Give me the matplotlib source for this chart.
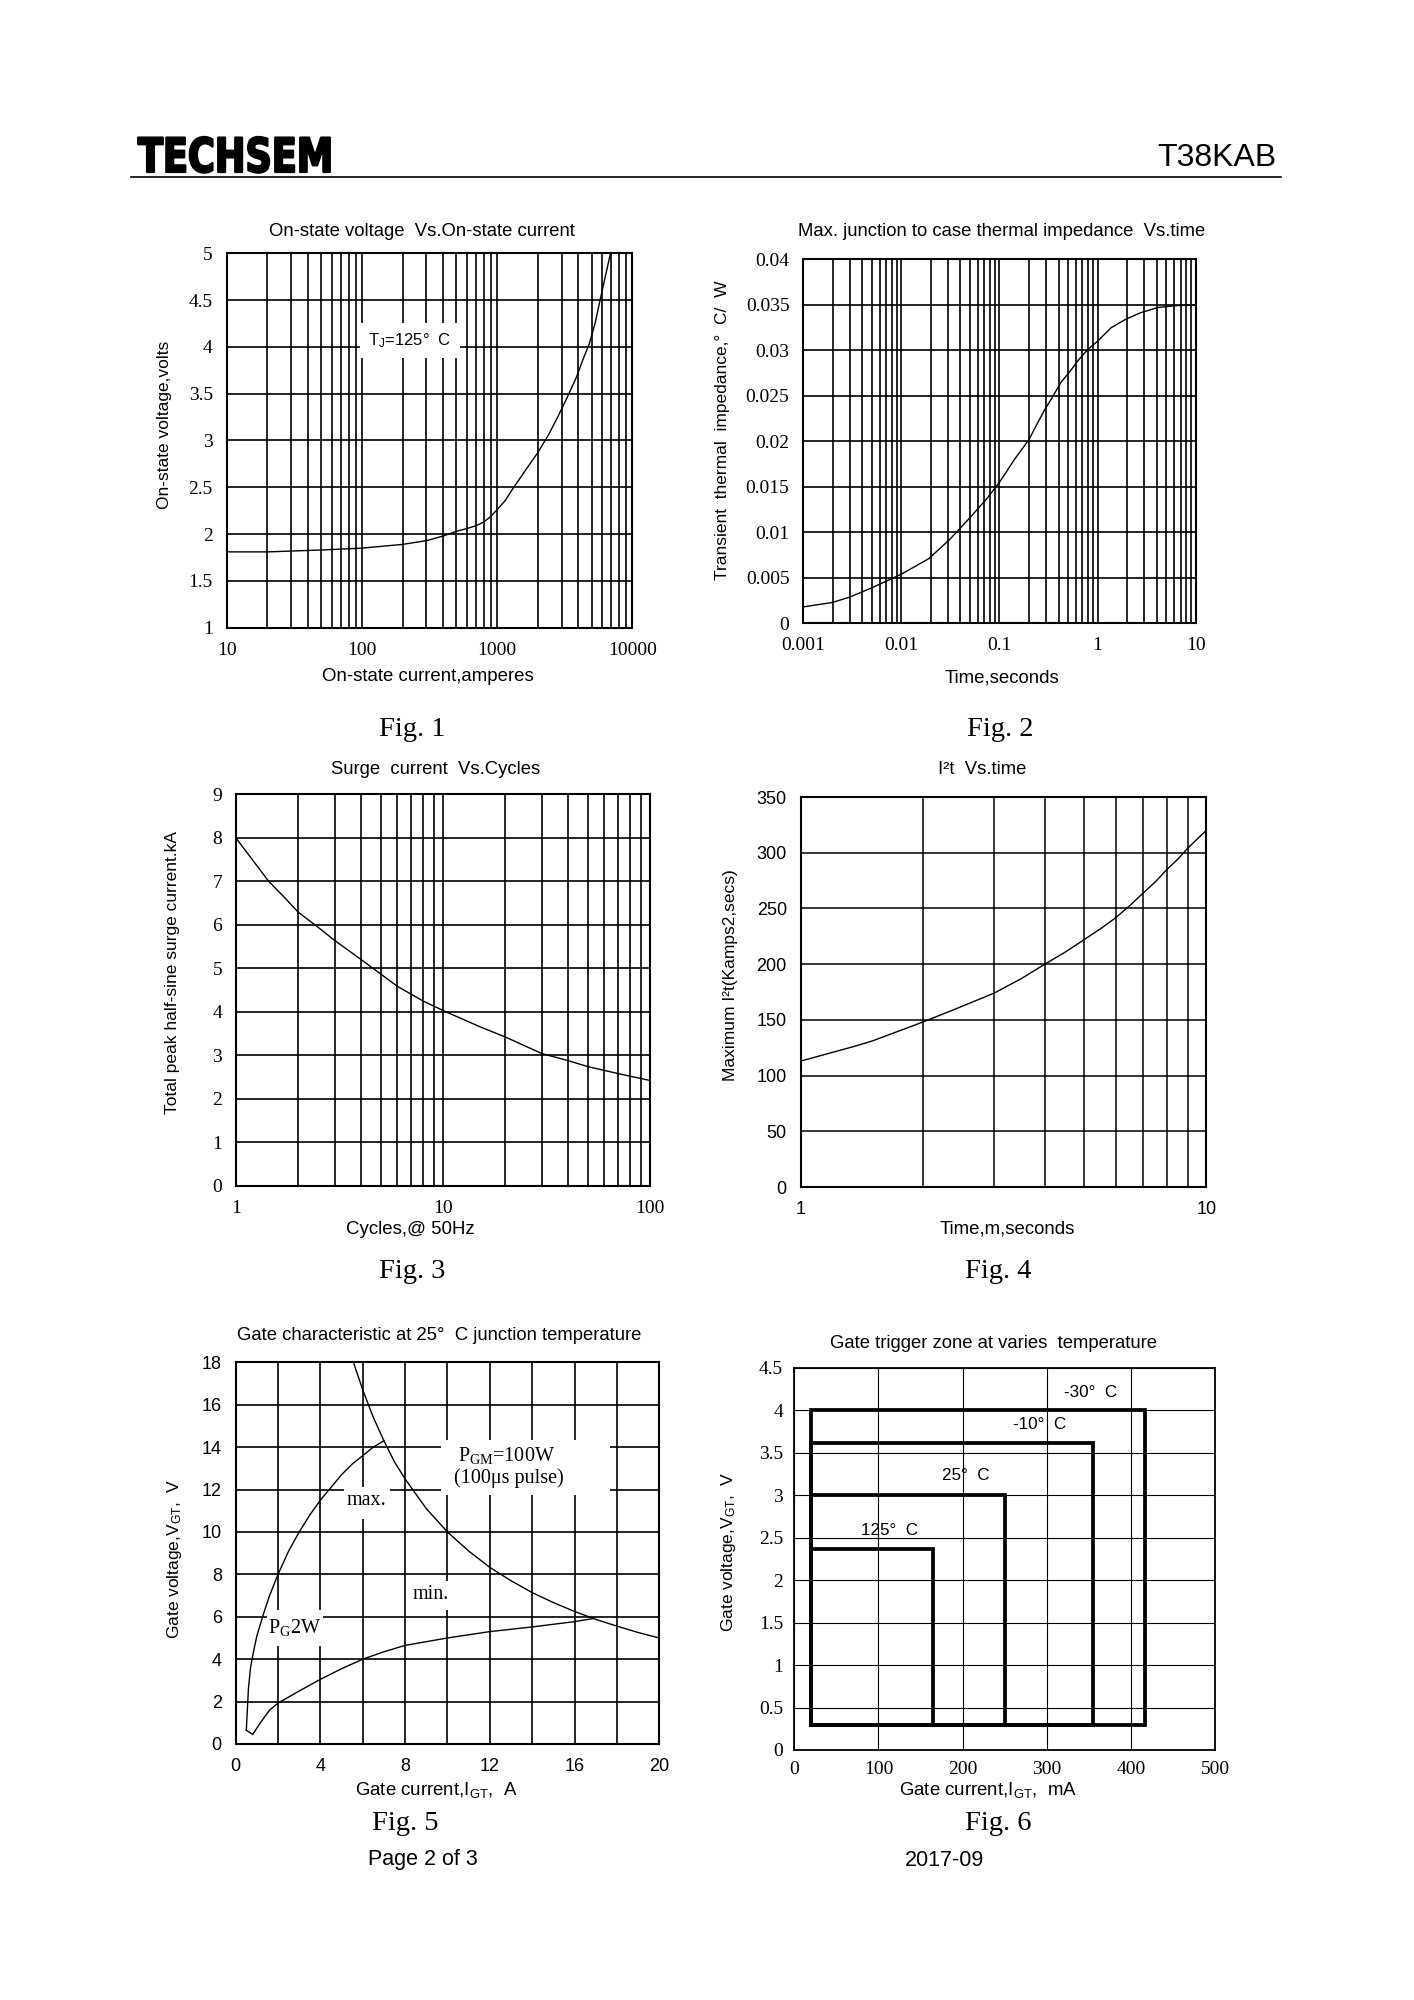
import matplotlib
matplotlib.use('Agg')
import matplotlib.pyplot as plt
from matplotlib.ticker import LogLocator, NullFormatter, FixedLocator
from matplotlib.patches import Rectangle
from matplotlib.patheffects import AbstractPathEffect
from matplotlib.transforms import Affine2D

# ---------------- data ----------------
# Fig.1 On-state voltage vs on-state current
f1_current = [10, 20, 50, 100, 200, 300, 400, 500, 600, 700, 800, 900, 1000, 1150, 1300,
              1600, 2000, 2400, 2850, 3300, 3870, 4300, 4800, 5300, 5900, 6400, 6900]
f1_voltage = [1.81, 1.81, 1.83, 1.85, 1.89, 1.93, 1.98, 2.03, 2.06, 2.09, 2.13, 2.19, 2.26, 2.36, 2.48,
              2.67, 2.87, 3.06, 3.27, 3.46, 3.68, 3.86, 4.03, 4.25, 4.56, 4.79, 5.0]
f1_yticks = [1, 1.5, 2, 2.5, 3, 3.5, 4, 4.5, 5]
f1_xticks = [10, 100, 1000, 10000]

# Fig.2 transient thermal impedance vs time
f2_time = [0.001, 0.002, 0.003, 0.005, 0.01, 0.019, 0.031, 0.048, 0.073, 0.1, 0.142, 0.2, 0.236,
           0.29, 0.344, 0.425, 0.524, 0.646, 0.796, 1.0, 1.38, 1.93, 2.7, 4.1, 6.25, 10]
f2_zth = [0.0018, 0.0023, 0.0029, 0.0039, 0.0054, 0.0071, 0.0092, 0.0114, 0.0136, 0.0155, 0.018, 0.0202, 0.0217,
          0.0235, 0.0248, 0.0265, 0.0277, 0.029, 0.0301, 0.031, 0.0325, 0.0334, 0.0341, 0.0347, 0.0349, 0.035]
f2_yticks = [0, 0.005, 0.01, 0.015, 0.02, 0.025, 0.03, 0.035, 0.04]
f2_xticks = [0.001, 0.01, 0.1, 1, 10]

# Fig.3 surge current vs cycles
f3_cycles = [1, 1.2, 1.44, 1.7, 2, 2.5, 3, 4, 5, 6, 8, 10, 15, 20, 25, 30, 40, 50, 70, 100]
f3_surge = [8.0, 7.5, 7.0, 6.65, 6.29, 5.94, 5.64, 5.21, 4.87, 4.59, 4.25, 4.03, 3.66, 3.42, 3.21, 3.04, 2.88,
            2.74, 2.58, 2.42]
f3_yticks = [0, 1, 2, 3, 4, 5, 6, 7, 8, 9]
f3_xticks = [1, 10, 100]

# Fig.4 I2t vs time
f4_time = [1, 1.35, 1.5, 2, 2.38, 3, 3.5, 4, 4.5, 5, 5.5, 6, 6.5, 7, 7.5, 8, 8.5, 9, 10]
f4_i2t = [113, 126, 131, 148, 159, 174, 187, 200, 211, 222, 232, 242, 253, 264, 274, 285, 294, 304, 320]
f4_yticks = [0, 50, 100, 150, 200, 250, 300, 350]
f4_xticks = [1, 10]

# Fig.5 gate characteristic
f5_pgm_i = [5.56, 6, 6.5, 7, 7.5, 8, 9, 10, 11, 12, 13, 14, 15, 16, 17, 18, 19, 20]
f5_pgm_v = [18, 16.7, 15.4, 14.3, 13.3, 12.5, 11.1, 10, 9.1, 8.33, 7.7, 7.14, 6.67, 6.25, 5.88, 5.56, 5.26, 5.0]
f5_max_i = [0.5, 0.55, 0.6, 0.7, 0.85, 1.0, 1.3, 1.6, 2.0, 2.5, 3.0, 3.5, 4.0, 4.5, 5.0, 5.5, 6.0, 6.5, 7.0]
f5_max_v = [0.65, 1.6, 2.6, 3.6, 4.4, 5.1, 6.1, 7.0, 8.0, 9.1, 10.0, 10.8, 11.5, 12.1, 12.7, 13.2, 13.6, 14.0, 14.3]
f5_min_i = [0.5, 0.8, 1.2, 1.6, 2.0, 3.0, 4.0, 5.0, 6.0, 7.0, 8.0, 10.0, 12.0, 14.0, 16.0, 16.9]
f5_min_v = [0.65, 0.45, 1.05, 1.6, 1.93, 2.5, 3.05, 3.55, 4.0, 4.35, 4.65, 5.0, 5.3, 5.52, 5.77, 5.92]
f5_xgrid = [0, 2, 4, 6, 8, 10, 12, 14, 16, 18, 20]
f5_xlabels = ['0', '', '4', '', '8', '', '12', '', '16', '', '20']
f5_yticks = [0, 2, 4, 6, 8, 10, 12, 14, 16, 18]

# Fig.6 gate trigger zone
f6_labels = ['-30°  C', '-10°  C', '25°  C', '125°  C']
f6_imin = [20, 20, 20, 20]
f6_imax = [417, 355, 250, 165]
f6_vmin = [0.3, 0.3, 0.3, 0.3]
f6_vmax = [4.0, 3.62, 3.0, 2.37]
f6_label_i = [352, 292, 204, 113]
f6_label_v = [4.21, 3.83, 3.23, 2.59]
f6_xticks = [0, 100, 200, 300, 400, 500]
f6_yticks = [0, 0.5, 1, 1.5, 2, 2.5, 3, 3.5, 4, 4.5]

# ---------------- layout ----------------
W, H = 1414, 2000
fig = plt.figure(figsize=(W / 100, H / 100), dpi=100)
SANS = 'Liberation Sans'
SERIF = 'Liberation Serif'
TITLE_FS = 13.3
XLABEL_FS = 13.4
YLABEL_FS = 12.5
SERIF_TICK = 14
SANS_TICK = 13
CAPTION_FS = 20.5


class SqueezeX(AbstractPathEffect):
    """Compress text horizontally around a fixed display x, and thicken it."""

    def __init__(self, x0, sx, lw=1.2):
        super().__init__()
        self.x0, self.sx, self.lw = x0, sx, lw

    def draw_path(self, renderer, gc, tpath, affine, rgbFace=None):
        aff = affine + Affine2D().translate(-self.x0, 0).scale(self.sx, 1).translate(self.x0, 0)
        gc0 = renderer.new_gc()
        gc0.copy_properties(gc)
        gc0.set_linewidth(self.lw)
        gc0.set_foreground('black')
        renderer.draw_path(gc0, tpath, aff, rgbFace)
        gc0.restore()


def px_axes(l, t, r, b):
    return fig.add_axes([l / W, 1 - b / H, (r - l) / W, (b - t) / H])


def ftext(x, y, s, **kw):
    kw.setdefault('ha', 'center')
    kw.setdefault('va', 'center')
    return fig.text(x / W, 1 - y / H, s, **kw)


def fmt(v):
    return '%g' % v


def style(ax, tickfont, tickfs, gridlw=1.2, framelw=1.5, pad=10):
    ax.set_axisbelow(True)
    for sp in ax.spines.values():
        sp.set_linewidth(framelw)
        sp.set_color('black')
    ax.tick_params(which='both', length=0, pad=pad, labelsize=tickfs, colors='black')
    for lab in ax.get_xticklabels() + ax.get_yticklabels():
        lab.set_fontfamily(tickfont)
    ax.grid(True, which='both', color='black', linewidth=gridlw)


def logx(ax, ticks):
    ax.set_xscale('log')
    ax.xaxis.set_major_locator(FixedLocator(ticks))
    ax.xaxis.set_minor_locator(LogLocator(base=10, subs=range(2, 10)))
    ax.xaxis.set_minor_formatter(NullFormatter())
    ax.set_xticklabels([fmt(t) for t in ticks])


# header
ftext(138, 172, 'TECHSEM', ha='left', va='baseline', family='DejaVu Sans',
      fontweight='bold', fontsize=34, path_effects=[SqueezeX(138, 0.775, 1.6)])
ftext(1277, 158, 'T38KAB', ha='right', family=SANS, fontsize=23)
fig.add_artist(plt.Line2D([131 / W, 1281 / W], [1 - 177 / H, 1 - 177 / H], color='black', linewidth=1.2))

# ---- Fig 1 ----
ax1 = px_axes(226.7, 253.3, 632.3, 627.7)
ax1.plot(f1_current, f1_voltage, color='black', linewidth=1.0)
logx(ax1, f1_xticks)
ax1.set_xlim(10, 10000)
ax1.set_ylim(1, 5)
ax1.set_yticks(f1_yticks)
ax1.set_yticklabels([fmt(t) for t in f1_yticks])
style(ax1, SERIF, SERIF_TICK, pad=10)
ax1.text(227, 4.07, 'T$\\mathregular{_J}$=125°  C', family=SANS, fontsize=12, ha='center', va='center',
         bbox=dict(boxstyle='square,pad=0.5', fc='white', ec='none'), zorder=3)
ftext(422, 232, 'On-state voltage  Vs.On-state current', family=SANS, fontsize=TITLE_FS)
ftext(428, 676, 'On-state current,amperes', family=SANS, fontsize=XLABEL_FS)
ftext(164, 425, 'On-state voltage,volts', family=SANS, fontsize=YLABEL_FS, rotation=90)
ftext(412, 729, 'Fig. 1', family=SERIF, fontsize=CAPTION_FS)

# ---- Fig 2 ----
ax2 = px_axes(803.3, 259.3, 1195.7, 623.3)
ax2.plot(f2_time, f2_zth, color='black', linewidth=1.0)
logx(ax2, f2_xticks)
ax2.set_xlim(0.001, 10)
ax2.set_ylim(0, 0.04)
ax2.set_yticks(f2_yticks)
ax2.set_yticklabels([fmt(t) for t in f2_yticks])
style(ax2, SERIF, SERIF_TICK, pad=10)
ftext(1002, 232, 'Max. junction to case thermal impedance  Vs.time', family=SANS, fontsize=TITLE_FS)
ftext(1002, 678, 'Time,seconds', family=SANS, fontsize=XLABEL_FS)
ftext(722, 430, 'Transient  thermal  impedance,°  C/  W', family=SANS, fontsize=YLABEL_FS, rotation=90)
ftext(1000, 729, 'Fig. 2', family=SERIF, fontsize=CAPTION_FS)

# ---- Fig 3 ----
ax3 = px_axes(235.9, 794.4, 650.3, 1185.8)
ax3.plot(f3_cycles, f3_surge, color='black', linewidth=1.0)
logx(ax3, f3_xticks)
ax3.set_xlim(1, 100)
ax3.set_ylim(0, 9)
ax3.set_yticks(f3_yticks)
ax3.set_yticklabels([fmt(t) for t in f3_yticks])
style(ax3, SERIF, SERIF_TICK, pad=10)
ftext(436, 769, 'Surge  current  Vs.Cycles', family=SANS, fontsize=TITLE_FS)
ftext(410, 1229, 'Cycles,@ 50Hz', family=SANS, fontsize=XLABEL_FS)
ftext(172, 973, 'Total peak half-sine surge current.kA', family=SANS, fontsize=YLABEL_FS, rotation=90)
ftext(412, 1271, 'Fig. 3', family=SERIF, fontsize=CAPTION_FS)

# ---- Fig 4 ----
ax4 = px_axes(800.7, 797, 1206.2, 1187)
ax4.plot(f4_time, f4_i2t, color='black', linewidth=1.0)
logx(ax4, f4_xticks)
ax4.set_xlim(1, 10)
ax4.set_ylim(0, 350)
ax4.set_yticks(f4_yticks)
ax4.set_yticklabels([fmt(t) for t in f4_yticks])
style(ax4, SANS, SANS_TICK, gridlw=1.1, pad=10)
ftext(982, 770, 'I²t  Vs.time', family=SANS, fontsize=TITLE_FS)
ftext(1007, 1229, 'Time,m,seconds', family=SANS, fontsize=XLABEL_FS)
ftext(731, 975, 'Maximum I²t(Kamps2,secs)', family=SANS, fontsize=YLABEL_FS, rotation=90)
ftext(998, 1271, 'Fig. 4', family=SERIF, fontsize=CAPTION_FS)

# ---- Fig 5 ----
ax5 = px_axes(235.7, 1362.3, 659.2, 1744)
ax5.plot(f5_pgm_i, f5_pgm_v, color='black', linewidth=1.0, zorder=4)
ax5.plot(f5_max_i, f5_max_v, color='black', linewidth=1.0, zorder=4)
ax5.plot(f5_min_i, f5_min_v, color='black', linewidth=1.0, zorder=4)
ax5.set_xlim(0, 20)
ax5.set_ylim(0, 18)
ax5.set_xticks(f5_xgrid)
ax5.set_xticklabels(f5_xlabels)
ax5.set_yticks(f5_yticks)
ax5.set_yticklabels([fmt(t) for t in f5_yticks])
style(ax5, SANS, SANS_TICK, gridlw=1.2, pad=10)
for (x0, y0, w, h) in [(9.7, 11.75, 8.0, 2.6), (5.1, 10.6, 2.2, 1.5), (8.3, 6.3, 2.0, 1.4), (1.5, 4.6, 2.6, 1.7)]:
    ax5.add_patch(Rectangle((x0, y0), w, h, facecolor='white', edgecolor='none', zorder=2))
ax5.text(12.8, 13.6, 'P$\\mathregular{_{GM}}$=100W', family=SERIF, fontsize=14.5, ha='center', va='center', zorder=5)
ax5.text(12.9, 12.55, '(100μs pulse)', family=SERIF, fontsize=14.5, ha='center', va='center', zorder=5)
ax5.text(6.18, 11.5, 'max.', family=SERIF, fontsize=14.5, ha='center', va='center', zorder=5)
ax5.text(9.2, 7.06, 'min.', family=SERIF, fontsize=14.5, ha='center', va='center', zorder=5)
ax5.text(2.77, 5.5, 'P$\\mathregular{_G}$2W', family=SERIF, fontsize=14.5, ha='center', va='center', zorder=5)
ftext(439, 1336, 'Gate characteristic at 25°  C junction temperature', family=SANS, fontsize=TITLE_FS)
ftext(436, 1790, 'Gate current,I$\\mathregular{_{GT}}$,  A', family=SANS, fontsize=XLABEL_FS)
ftext(175, 1559, 'Gate voltage,V$\\mathregular{_{GT}}$,  V', family=SANS, fontsize=YLABEL_FS, rotation=90)
ftext(405, 1823, 'Fig. 5', family=SERIF, fontsize=CAPTION_FS)
ftext(423, 1860, 'Page 2 of 3', family=SANS, fontsize=15.5)

# ---- Fig 6 ----
ax6 = px_axes(794.3, 1368, 1215, 1750)
for i0, i1, v0, v1 in zip(f6_imin, f6_imax, f6_vmin, f6_vmax):
    ax6.add_patch(Rectangle((i0, v0), i1 - i0, v1 - v0, fill=False, edgecolor='black',
                            linewidth=2.7, joinstyle='miter', zorder=4))
for lab, li, lv in zip(f6_labels, f6_label_i, f6_label_v):
    ax6.text(li, lv, lab, family=SANS, fontsize=12.3, ha='center', va='center', zorder=5)
ax6.set_xlim(0, 500)
ax6.set_ylim(0, 4.5)
ax6.set_xticks(f6_xticks)
ax6.set_xticklabels([fmt(t) for t in f6_xticks])
ax6.set_yticks(f6_yticks)
ax6.set_yticklabels([fmt(t) for t in f6_yticks])
style(ax6, SERIF, SERIF_TICK, gridlw=0.8, framelw=1.3, pad=8)
ftext(994, 1344, 'Gate trigger zone at varies  temperature', family=SANS, fontsize=TITLE_FS)
ftext(988, 1790, 'Gate current,I$\\mathregular{_{GT}}$,  mA', family=SANS, fontsize=XLABEL_FS)
ftext(729, 1552, 'Gate voltage,V$\\mathregular{_{GT}}$,  V', family=SANS, fontsize=YLABEL_FS, rotation=90)
ftext(998, 1823, 'Fig. 6', family=SERIF, fontsize=CAPTION_FS)
ftext(945, 1860, '2017-09', family=SANS, fontsize=15.5)

fig.savefig('out.png', dpi=100, facecolor='white')
